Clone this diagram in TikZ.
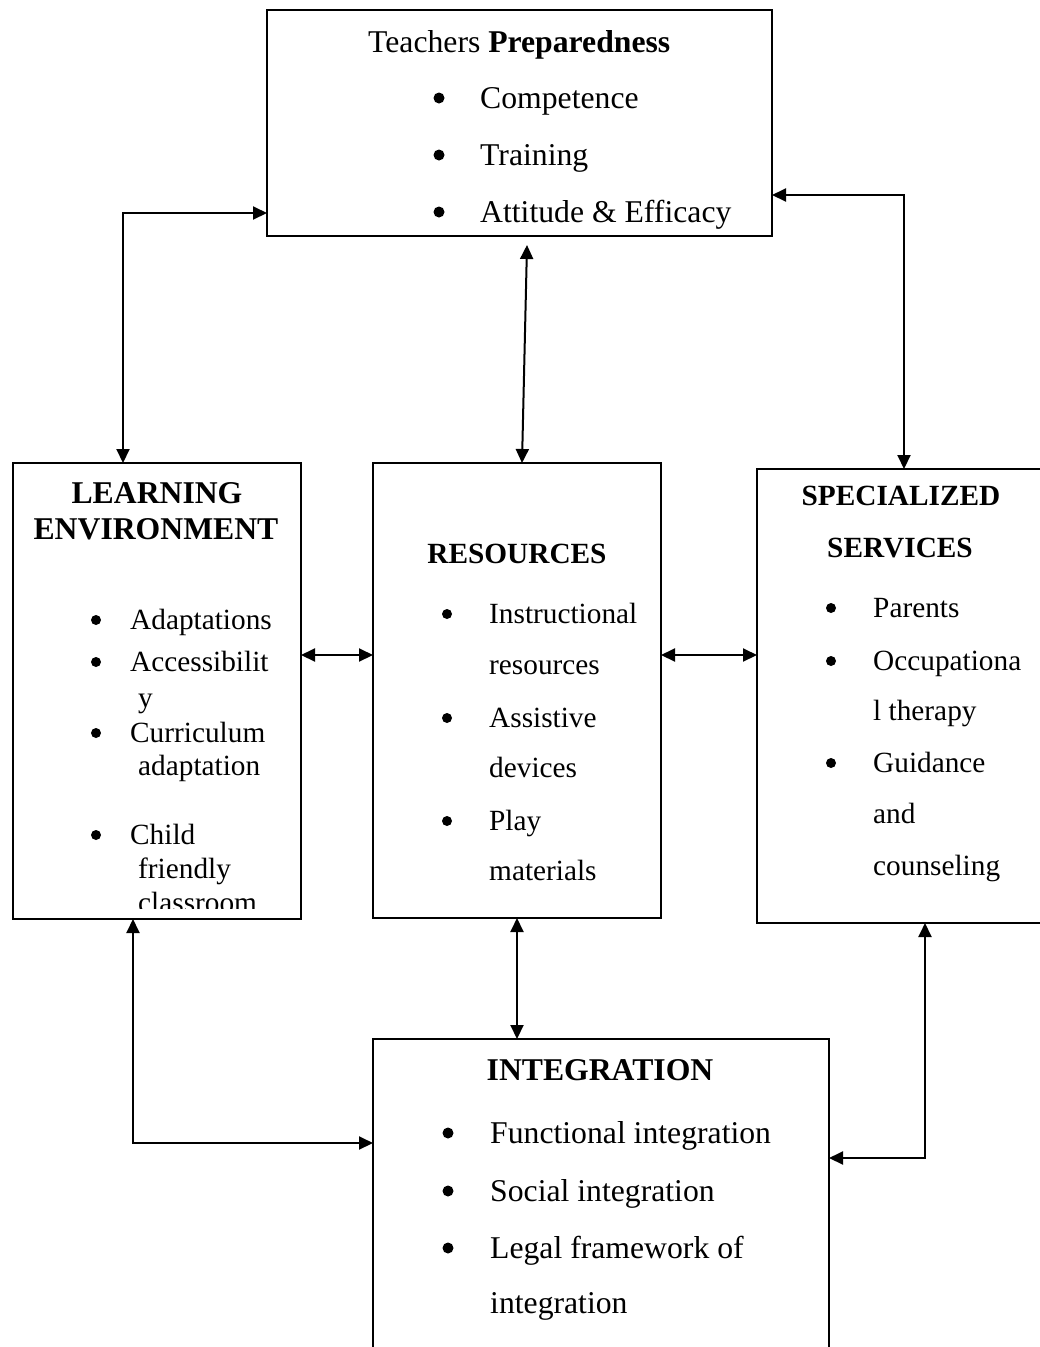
\documentclass[tikz,border=0pt]{standalone}
\usepackage{fontspec}
\setmainfont{Liberation Serif}
\usetikzlibrary{arrows.meta}
\tikzset{
  box/.style={draw, line width=2pt, rectangle, anchor=north west, inner sep=0pt, outer sep=0pt},
  txt/.style={anchor=base west, inner sep=0pt, font=\fontsize{31.7}{36}\selectfont},
  stxt/.style={anchor=base west, inner sep=0pt, font=\fontsize{29.3}{34}\selectfont},
  head/.style={anchor=base, inner sep=0pt, font=\fontsize{31.7}{36}\selectfont\bfseries},
  shead/.style={anchor=base, inner sep=0pt, font=\fontsize{29.3}{34}\selectfont\bfseries},
  dot/.style={circle, fill, inner sep=0pt, minimum size=11pt},
  sdot/.style={circle, fill, inner sep=0pt, minimum size=10pt},
  dbl/.style={line width=2pt, {Triangle[length=14pt,width=13pt]}-{Triangle[length=14pt,width=13pt]}}
}
\begin{document}
\begin{tikzpicture}[x=1pt,y=-1pt]
\useasboundingbox[fill=white] (0,0) rectangle (1040,1347);

% boxes
\node[box, minimum width=505pt, minimum height=226pt] (tp) at (267,10) {};
\node[box, minimum width=288pt, minimum height=456pt] (le) at (13,463) {};
\node[box, minimum width=288pt, minimum height=455pt] (rs) at (373,463) {};
\node[box, minimum width=300pt, minimum height=454pt] (sp) at (757,469) {};
\node[box, minimum width=456pt, minimum height=330pt] (in) at (373,1039) {};

% top box text
\node[txt] (t0) at (368,52) {Teachers \textbf{Preparedness}};
\node[dot] (tb1) at (439,98) {};
\node[txt] (t1) at (480,108) {Competence};
\node[dot] (tb2) at (439,155) {};
\node[txt] (t2) at (480,165) {Training};
\node[dot] (tb3) at (439,212) {};
\begin{scope}
\clip (470,180) rectangle (760,228);
\node[txt] (t3) at (480,222) {Attitude \& Efficacy};
\end{scope}

% learning environment
\node[head] (l0) at (157,503) {LEARNING};
\node[head] (l1) at (156,539) {ENVIRONMENT};
\node[sdot] (lb1) at (96,620) {};
\node[stxt] (l2) at (130,629) {Adaptations};
\node[sdot] (lb2) at (96,662) {};
\node[stxt] (l3) at (130,671) {Accessibilit};
\node[stxt] (l4) at (138,707) {y};
\node[sdot] (lb3) at (96,733) {};
\node[stxt] (l5) at (130,742) {Curriculum};
\node[stxt] (l6) at (138,775) {adaptation};
\node[sdot] (lb4) at (96,835) {};
\node[stxt] (l7) at (130,844) {Child};
\node[stxt] (l8) at (138,878) {friendly};
\begin{scope}
\clip (20,880) rectangle (295,908);
\node[stxt] (l9) at (138,912) {classroom};
\end{scope}

% resources
\node[shead] (r0) at (517,563) {RESOURCES};
\node[sdot] (rb1) at (447,614) {};
\node[stxt] (r1) at (489,623) {Instructional};
\node[stxt] (r2) at (489,674) {resources};
\node[sdot] (rb2) at (447,718) {};
\node[stxt] (r3) at (489,727) {Assistive};
\node[stxt] (r4) at (489,777) {devices};
\node[sdot] (rb3) at (447,821) {};
\node[stxt] (r5) at (489,830) {Play};
\node[stxt] (r6) at (489,880) {materials};

% specialized services
\node[shead] (s0) at (901,505) {SPECIALIZED};
\node[shead] (s1) at (900,557) {SERVICES};
\node[sdot] (sb1) at (831,608) {};
\node[stxt] (s2) at (873,617) {Parents};
\node[sdot] (sb2) at (831,661) {};
\node[stxt] (s3) at (873,670) {Occupationa};
\node[stxt] (s4) at (873,720) {l therapy};
\node[sdot] (sb3) at (831,763) {};
\node[stxt] (s5) at (873,772) {Guidance};
\node[stxt] (s6) at (873,823) {and};
\node[stxt] (s7) at (873,875) {counseling};

% integration
\node[head] (i0) at (600,1080) {INTEGRATION};
\node[dot] (ib1) at (448,1133) {};
\node[txt] (i1) at (490,1143) {Functional integration};
\node[dot] (ib2) at (448,1191) {};
\node[txt] (i2) at (490,1201) {Social integration};
\node[dot] (ib3) at (448,1248) {};
\node[txt] (i3) at (490,1258) {Legal framework of};
\node[txt] (i4) at (490,1313) {integration};

% connectors
\coordinate (c1) at (123,213);
\draw[dbl] (c1 |- le.north) -- (c1) -- (c1 -| tp.west);
\coordinate (c2) at (904,195);
\draw[dbl] (c2 -| tp.east) -- (c2) -- (c2 |- sp.north);
\coordinate (m1) at (527,245);
\coordinate (m2) at (522,0);
\draw[dbl] (m1) -- (m2 |- rs.north);
\coordinate (h1) at (0,655);
\draw[dbl] (le.east |- h1) -- (rs.west |- h1);
\draw[dbl] (rs.east |- h1) -- (sp.west |- h1);
\coordinate (v1) at (517,0);
\draw[dbl] (v1 |- rs.south) -- (v1 |- in.north);
\coordinate (c3) at (133,1143);
\draw[dbl] (c3 |- le.south) -- (c3) -- (c3 -| in.west);
\coordinate (c4) at (925,1158);
\draw[dbl] (c4 |- sp.south) -- (c4) -- (c4 -| in.east);
\end{tikzpicture}
\end{document}
